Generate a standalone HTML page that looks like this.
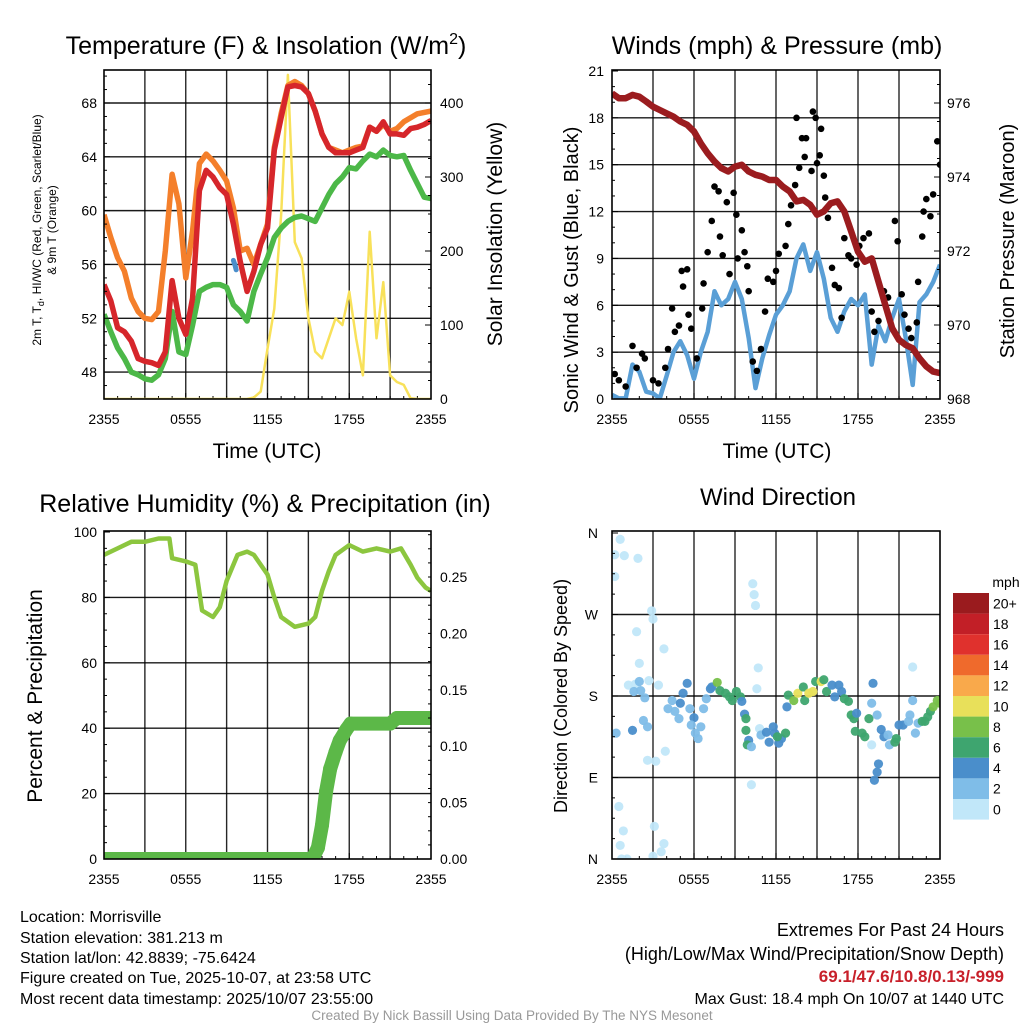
<!DOCTYPE html>
<html><head><meta charset="utf-8"><style>
body{margin:0;background:#fff}
svg{display:block;font-family:"Liberation Sans",Arial,sans-serif}
</style></head><body>
<svg id="svg" width="1024" height="1024" viewBox="0 0 1024 1024" xmlns="http://www.w3.org/2000/svg">
<rect width="1024" height="1024" fill="#fff"/>
<g font-size="25" text-anchor="middle" fill="#000">
<text x="266" y="54">Temperature (F) &amp; Insolation (W/m<tspan font-size="16" dy="-10">2</tspan><tspan dy="10">)</tspan></text>
<text x="777" y="54">Winds (mph) &amp; Pressure (mb)</text>
<text x="265" y="512">Relative Humidity (%) &amp; Precipitation (in)</text>
<text x="778" y="505" font-size="24">Wind Direction</text>
</g>
<g font-size="21" text-anchor="middle">
<text x="267" y="458">Time (UTC)</text>
<text x="777" y="458">Time (UTC)</text>
<text transform="translate(502,234) rotate(-90)">Solar Insolation (Yellow)</text>
<text transform="translate(578,270) rotate(-90)" font-size="20">Sonic Wind &amp; Gust (Blue, Black)</text>
<text transform="translate(1014,241) rotate(-90)" font-size="20">Station Pressure (Maroon)</text>
<text transform="translate(42,696) rotate(-90)">Percent &amp; Precipitation</text>
<text transform="translate(567,696) rotate(-90)" font-size="18">Direction (Colored By Speed)</text>
</g>
<g font-size="12" text-anchor="middle">
<text transform="translate(41,230) rotate(-90)">2m T, T<tspan font-size="9" dy="3">d</tspan><tspan dy="-3">, HI/WC (Red, Green, Scarlet/Blue)</tspan></text>
<text transform="translate(56,230) rotate(-90)">&amp; 9m T (Orange)</text>
</g>
<g font-size="16" fill="#000">
<text x="20" y="922">Location: Morrisville</text>
<text x="20" y="943">Station elevation: 381.213 m</text>
<text x="20" y="963">Station lat/lon: 42.8839; -75.6424</text>
<text x="20" y="983">Figure created on Tue, 2025-10-07, at 23:58 UTC</text>
<text x="20" y="1004">Most recent data timestamp: 2025/10/07 23:55:00</text>
</g>
<g font-size="18" text-anchor="end">
<text x="1004" y="936">Extremes For Past 24 Hours</text>
<text x="1004" y="960">(High/Low/Max Wind/Precipitation/Snow Depth)</text>
<text x="1004" y="982" font-size="17" fill="#c8202a" font-weight="bold">69.1/47.6/10.8/0.13/-999</text>
<text x="1004" y="1004" font-size="16">Max Gust: 18.4 mph On 10/07 at 1440 UTC</text>
</g>
<text x="512" y="1020" font-size="13.5" fill="#999" text-anchor="middle">Created By Nick Bassill Using Data Provided By The NYS Mesonet</text>
</svg>
<script>
// ---------- shared time axis (hours since 2355 UTC) ----------
const hours=[0,0.5,1,1.5,2,2.5,3,3.5,4,4.5,5,5.5,6,6.5,7,7.5,8,8.5,9,9.5,10,10.5,11,11.5,12,12.5,13,13.5,14,14.5,15,15.5,16,16.5,17,17.5,18,18.5,19,19.5,20,20.5,21,21.5,22,22.5,23,23.5,24];
const xTickLabels=["2355","0555","1155","1755","2355"];
const xTickHours=[0,6,12,18,24];
// ---------- panel 1 ----------
const tempRed=[54.5,53.3,51.3,51.0,50.3,49.0,48.8,48.7,48.5,49.5,54.8,52.0,50.8,53.5,61.5,63.0,62.5,61.7,61.2,59.0,56.2,54.0,55.5,57.5,58.7,64.5,66.9,69.2,69.3,69.2,68.7,67.4,65.7,64.7,64.3,64.3,64.3,64.5,64.7,66.2,65.9,66.6,65.7,65.7,65.6,66.1,66.2,66.4,66.7];
const temp9m=[59.7,58.0,56.5,55.5,53.5,52.5,52.0,51.9,52.5,57.0,62.7,60.5,55.0,58.5,63.5,64.2,63.7,63.0,62.2,60.2,57.0,57.2,56.0,57.5,59.0,64.7,67.2,69.3,69.6,69.3,68.7,67.4,65.7,64.7,64.5,64.3,64.5,64.7,64.8,66.2,65.9,66.4,65.9,66.1,66.6,66.9,67.2,67.3,67.4];
const dewpoint=[52.3,51.0,49.8,49.0,48.0,47.8,47.5,47.4,47.8,49.0,52.5,49.5,49.3,51.5,54.0,54.3,54.5,54.5,54.3,53.0,52.5,51.8,54.0,55.3,56.5,58.0,58.7,59.2,59.5,59.6,59.4,59.2,60.2,61.2,62.0,62.5,63.2,63.1,63.7,64.2,64.0,64.5,64.1,64.0,64.1,63.0,62.0,61.0,60.9];
const solar=[0,0,0,0,0,0,0,0,0,0,0,0,0,0,0,0,0,0,0,0,0,0,2,10,68,122,248,438,212,190,109,64,55,82,109,100,145,82,32,226,82,158,32,23,19,1,0,0,0];
const wcHours=[9.5,9.6,9.7];
const wcValues=[56.3,56.0,55.6];
const tempTicks=[48,52,56,60,64,68];
const solarTicks=[0,100,200,300,400];
// ---------- panel 2 ----------
const sonicWind=[0.26,0.04,0.04,2.2,1.75,0.47,0.36,0.04,1.5,3.0,3.7,2.8,1.3,3.0,4.3,6.9,6.0,6.4,7.5,6.4,3.9,0.7,2.6,4.1,5.4,6.0,6.9,9.0,9.9,8.2,9.4,7.7,5.2,4.3,5.6,6.4,6.0,6.7,2.2,4.7,3.7,5.2,6.4,3.9,0.9,6.2,6.7,7.5,8.6];
const pressure=[976.26,976.13,976.13,976.22,976.17,976.04,975.90,975.81,975.72,975.63,975.50,975.41,975.23,974.91,974.64,974.42,974.24,974.15,974.28,974.33,974.15,974.06,974.01,973.92,973.92,973.74,973.61,973.34,973.38,973.25,972.98,973.07,973.29,973.34,973.07,972.53,971.98,971.71,971.80,971.17,970.54,969.91,969.60,969.46,969.37,969.10,968.88,968.74,968.70];
const gustHours=[0.2,0.5,1.0,1.5,1.8,2.2,2.4,3.0,3.4,3.9,4.1,4.4,4.6,4.9,5.1,5.2,5.5,5.6,5.8,6.2,6.6,6.7,7.0,7.3,7.5,7.8,7.9,8.1,8.4,8.6,8.9,9.1,9.2,9.5,9.7,9.9,10.0,10.3,10.6,10.9,11.2,11.4,11.8,12.0,12.2,12.7,12.9,13.1,13.4,13.5,13.7,13.9,14.1,14.2,14.6,14.7,14.9,15.0,15.2,15.3,15.5,15.6,15.8,16.1,16.3,16.6,16.8,17.0,17.3,17.5,17.9,18.1,18.4,18.8,19.0,19.2,19.5,19.9,20.2,20.7,20.9,21.2,21.4,21.7,21.9,22.3,22.4,22.7,22.8,23.0,23.3,23.5,23.8,24.0];
const gustValues=[1.6,1.2,0.8,3.4,2.0,2.9,2.6,1.2,1.0,2.0,3.2,5.8,4.3,4.7,8.2,7.2,8.3,5.4,4.5,2.6,5.8,7.4,9.4,11.4,13.6,13.3,10.4,9.2,12.6,8.0,13.2,11.8,9.0,10.8,9.4,8.5,6.9,2.4,1.8,3.2,5.6,7.7,7.5,8.2,9.3,9.8,11.2,12.4,13.7,18.0,14.8,16.7,15.5,16.7,14.6,18.4,18.0,15.1,15.6,17.3,14.3,12.9,11.6,8.4,7.3,7.1,5.2,10.3,9.2,9.0,8.6,9.8,10.3,10.6,5.6,4.3,5.0,6.9,6.5,11.4,10.1,6.7,5.4,4.5,3.9,4.9,7.5,10.4,12.0,12.8,11.7,13.1,16.5,15.0];
const windTicks=[0,3,6,9,12,15,18,21];
const pressTicks=[968,970,972,974,976];
// ---------- panel 3 ----------
const rhHours=[0,1,2,3,4,4.8,5,6,6.7,7.2,8,8.5,9,9.8,10.5,11,12,12.5,13,14,15,15.5,16,16.5,17,18,19,20,21,21.8,22.5,23,23.6,24];
const rhValues=[93,95,97,97,98,98,92,91,90,76,74,77,85,93,94,93,87,80,74,71,72,74,82,88,93,96,94,95,94,95,90,86,83,82];
const precipHours=[0,15.3,15.7,16.0,16.3,16.6,17.0,17.3,17.8,18.1,21.0,21.5,24];
const precipValues=[0,0,0.01,0.03,0.06,0.08,0.095,0.105,0.115,0.12,0.12,0.125,0.125];
const rhTicks=[0,20,40,60,80,100];
const precipTicks=[0,0.05,0.10,0.15,0.20,0.25];
const precipTickLabels=["0.00","0.05","0.10","0.15","0.20","0.25"];
// ---------- panel 4 ----------
const dirHours=[0.6,0.2,0.9,1.9,0.2,2.9,3.0,1.8,3.8,2.0,1.2,1.7,1.6,2.1,2.4,2.0,2.7,3.4,2.3,2.6,1.5,0.3,2.6,3.2,3.9,0.5,0.83,0.6,0.7,1.1,3.1,3.8,3.6,3.0,4.1,4.4,4.6,4.9,5.0,5.2,5.5,5.7,6.0,5.8,6.1,6.3,6.5,6.7,6.9,7.2,7.3,7.7,7.9,8.3,8.6,8.8,9.1,9.4,9.5,9.7,9.8,9.8,10.0,9.9,10.2,10.3,10.4,10.5,10.7,10.6,10.2,10.8,10.9,11.3,11.5,11.8,11.9,12.2,12.4,12.1,12.7,12.8,12.9,13.3,13.6,14.0,14.1,14.4,14.7,14.9,15.3,15.5,15.7,16.1,16.3,16.6,16.8,17.0,17.3,17.5,17.7,17.9,17.8,18.3,18.5,18.8,19.0,19.1,19.0,19.4,19.5,19.4,19.2,19.7,19.9,20.2,20.3,20.7,20.8,21.0,21.3,21.7,21.8,22.0,22.0,22.2,22.4,22.7,22.9,23.1,23.3,23.5,23.8,24.0];
const dirValues=[353,336,335,332,312,274,265,251,232,216,192,193,185,186,178,196,197,192,153,146,142,139,109,108,119,58,31,15,0,0,36,17,8,3,166,175,163,155,172,183,194,166,156,148,139,133,146,166,177,188,190,195,186,183,179,175,185,179,174,160,155,142,131,126,124,304,292,280,211,188,82,144,137,140,129,146,139,128,133,135,139,168,181,175,183,190,175,183,185,196,196,198,185,192,179,192,185,177,174,159,155,161,141,139,135,155,172,194,126,159,105,96,87,143,135,137,126,129,133,148,148,152,159,175,212,139,150,152,152,157,163,168,175,172];
const dirSpeeds=[0,0,0,0,0,0,0,0,0,1,0,1,2,2,2,2,0,0,2,2,4,2,0,0,0,0,0,0,0,0,0,0,0,0,2,2,2,2,4,4,4,2,4,2,2,2,2,2,2,4,4,8,6,6,6,6,6,6,4,4,6,6,4,6,2,0,0,0,0,0,0,0,2,4,4,4,4,4,4,6,6,4,6,8,10,6,6,10,10,6,10,6,6,4,4,4,4,6,6,6,6,4,6,6,6,6,2,4,0,2,4,4,4,4,4,2,2,6,6,4,4,2,2,2,0,2,2,6,6,6,6,8,8,8];
const dirTicks=[0,90,180,270,360];
const dirTickLabels=["N","E","S","W","N"];
const speedBins=[0,2,4,6,8,10,12,14,16,18,20];
const speedLabels=["0","2","4","6","8","10","12","14","16","18","20+"];
const speedColors=["#c1e7f9","#7fbde8","#4a8ecb","#3ea56f","#78c04a","#e8e05a","#f9a94b","#ef6a2c","#e0312d","#c21f27","#9a1b1e"];

const NS="http://www.w3.org/2000/svg";
const svg=document.getElementById('svg');
function mk(tag,attrs,parent){const e=document.createElementNS(NS,tag);for(const k in attrs)e.setAttribute(k,attrs[k]);(parent||svg).appendChild(e);return e;}
function lin(d0,d1,r0,r1){return v=>r0+(v-d0)*(r1-r0)/(d1-d0);}

const P1={x0:104,x1:431,y0:70,y1:399};
const P2={x0:612,x1:940,y0:70,y1:399};
const P3={x0:104,x1:431,y0:531,y1:859};
const P4={x0:612,x1:940,y0:531,y1:859};

function frame(P,name,yTicksPos){
  const g=mk('g',{});
  
  
  const x=lin(0,24,P.x0,P.x1);
  for(let h=3;h<24;h+=3){const l=mk('line',{x1:x(h),x2:x(h),y1:P.y0,y2:P.y1,stroke:'#000','stroke-width':1.4,'stroke-opacity':0.85},g);
    
    }
  yTicksPos.forEach(y=>{const l=mk('line',{x1:P.x0,x2:P.x1,y1:y,y2:y,stroke:'#000','stroke-width':1.4,'stroke-opacity':0.9},g);
    
    });
  xTickHours.forEach((h,i)=>{const t=mk('text',{x:x(h),y:P.y1+25,'font-size':14,'text-anchor':'middle'},g);t.textContent=xTickLabels[i];
    
    });
  for(let h=0;h<=24;h+=1){mk('line',{x1:x(h),x2:x(h),y1:P.y1,y2:P.y1-(h%6?3:6),stroke:'#000','stroke-width':1},g);}
  return x;
}
function border(P,name){const r=mk('rect',{x:P.x0,y:P.y0,width:P.x1-P.x0,height:P.y1-P.y0,fill:'none',stroke:'#000','stroke-width':1.6});
  
  }
function yLabels(vals,labels,yf,xpos,anchor,name){vals.forEach((v,i)=>{const t=mk('text',{x:xpos,y:yf(v)+5,'font-size':14,'text-anchor':anchor});t.textContent=labels[i];
  
  });}
function pathD(xs,ys,xf,yf){return xs.map((h,i)=>(i?'L':'M')+xf(h).toFixed(1)+','+yf(ys[i]).toFixed(1)).join('');}
function clip(P,id){const c=mk('clipPath',{id:id});mk('rect',{x:P.x0,y:P.y0,width:P.x1-P.x0,height:P.y1-P.y0},c);}

// ---- Panel 1
const y1T=lin(46,68,399,103), y1S=lin(0,400,399,103);
const x1=frame(P1,'temp',tempTicks.map(y1T));
clip(P1,'c1');
const g1=mk('g',{'clip-path':'url(#c1)'});


const sSolar=mk('path',{d:pathD(hours,solar,x1,y1S),fill:'none',stroke:'#f8e15a','stroke-width':2.5,'stroke-linejoin':'round'},g1);


const sDew=mk('path',{d:pathD(hours,dewpoint,x1,y1T),fill:'none',stroke:'#4cb848','stroke-width':5.5,'stroke-linejoin':'round'},g1);


const s9=mk('path',{d:pathD(hours,temp9m,x1,y1T),fill:'none',stroke:'#f47f2b','stroke-width':5.5,'stroke-linejoin':'round'},g1);


const sRed=mk('path',{d:pathD(hours,tempRed,x1,y1T),fill:'none',stroke:'#d6262b','stroke-width':5.5,'stroke-linejoin':'round'},g1);


const sWc=mk('path',{d:pathD(wcHours,wcValues,x1,y1T),fill:'none',stroke:'#4a8ecb','stroke-width':5,'stroke-linecap':'round'},g1);


border(P1,'temp');
yLabels(tempTicks,tempTicks.map(String),y1T,97,'end','temp-y-tick-label');
yLabels(solarTicks,solarTicks.map(String),y1S,440,'start','solar-y-tick-label');
for(let v=46;v<=70;v++)mk('line',{x1:P1.x0,x2:P1.x0+(v%4==0?6:3),y1:y1T(v),y2:y1T(v),stroke:'#000'});
for(let v=0;v<=440;v+=25)mk('line',{x1:P1.x1,x2:P1.x1-(v%100==0?6:3),y1:y1S(v),y2:y1S(v),stroke:'#000'});

// ---- Panel 2
const y2W=lin(0,21,399,71), y2P=lin(968,976,399,103);
const x2=frame(P2,'winds',[3,6,9,12,15,18].map(y2W));
clip(P2,'c2');
const g2=mk('g',{'clip-path':'url(#c2)'});


const sW=mk('path',{d:pathD(hours,sonicWind,x2,y2W),fill:'none',stroke:'#5a9fd6','stroke-width':4.5,'stroke-linejoin':'round'},g2);


gustHours.forEach((h,i)=>{const c=mk('circle',{cx:x2(h),cy:y2W(gustValues[i]),r:3.3,fill:'#000'},g2);
  
  });
const sP=mk('path',{d:pathD(hours,pressure,x2,y2P),fill:'none',stroke:'#9b1c1f','stroke-width':6.5,'stroke-linejoin':'round'},g2);


border(P2,'winds');
yLabels(windTicks,windTicks.map(String),y2W,604,'end','wind-y-tick-label');
yLabels(pressTicks,pressTicks.map(String),y2P,947,'start','pressure-y-tick-label');
for(let v=0;v<=21;v++)mk('line',{x1:P2.x0,x2:P2.x0+(v%3==0?6:3),y1:y2W(v),y2:y2W(v),stroke:'#000'});
for(let v=968;v<=976.8;v+=0.5)mk('line',{x1:P2.x1,x2:P2.x1-(v%2==0?6:3),y1:y2P(v),y2:y2P(v),stroke:'#000'});

// ---- Panel 3
const y3R=lin(0,100,859,532), y3P=lin(0,0.25,859,577);
const x3=frame(P3,'humidity',[20,40,60,80].map(y3R));
clip(P3,'c3');
const g3=mk('g',{'clip-path':'url(#c3)'});


const sRh=mk('path',{d:pathD(rhHours,rhValues,x3,y3R),fill:'none',stroke:'#8cc63f','stroke-width':4.5,'stroke-linejoin':'round'},g3);


const sPr=mk('path',{d:pathD(precipHours,precipValues,x3,y3P),fill:'none',stroke:'#5cb848','stroke-width':14,'stroke-linejoin':'round','stroke-linecap':'round'},g3);


precipHours.forEach((h,i)=>{const c=mk('circle',{cx:x3(h),cy:y3P(precipValues[i]),r:7,fill:'#5cb848'},g3);
  
  });
border(P3,'humidity');
yLabels(rhTicks,rhTicks.map(String),y3R,97,'end','rh-y-tick-label');
yLabels(precipTicks,precipTickLabels,y3P,440,'start','precip-y-tick-label');
for(let v=0;v<=100;v+=5)mk('line',{x1:P3.x0,x2:P3.x0+(v%20==0?6:3),y1:y3R(v),y2:y3R(v),stroke:'#000'});
for(let v=0;v<=0.29;v+=0.0125)mk('line',{x1:P3.x1,x2:P3.x1-3,y1:y3P(v),y2:y3P(v),stroke:'#000'});

// ---- Panel 4
const y4=lin(0,360,859,533);
const x4=frame(P4,'direction',[90,180,270].map(y4));
clip(P4,'c4');
const g4=mk('g',{'clip-path':'url(#c4)'});


function spColor(s){let k=0;speedBins.forEach((b,i)=>{if(s>=b)k=i;});return speedColors[k];}
dirHours.forEach((h,i)=>{const c=mk('circle',{cx:x4(h),cy:y4(dirValues[i]),r:4.6,fill:spColor(dirSpeeds[i]),'fill-opacity':0.95},g4);
  
  });
border(P4,'direction');
yLabels(dirTicks,dirTickLabels,y4,598,'end','direction-y-tick-label');
for(let v=0;v<=360;v+=22.5)mk('line',{x1:P4.x0,x2:P4.x0+(v%90==0?6:3),y1:y4(v),y2:y4(v),stroke:'#000'});
// colorbar
const cb=mk('g',{});


const cbTop=593,cbH=20.6;
const mt=mk('text',{x:1006,y:587,'font-size':14,'text-anchor':'middle'},cb);mt.textContent='mph';
for(let i=0;i<speedColors.length;i++){
  const idx=speedColors.length-1-i;
  const r=mk('rect',{x:953,y:cbTop+i*cbH,width:36,height:cbH,fill:speedColors[idx]},cb);
  
  
  const t=mk('text',{x:993,y:cbTop+i*cbH+cbH/2+5,'font-size':14},cb);t.textContent=speedLabels[idx];
  
  
}
</script>
</body></html>
